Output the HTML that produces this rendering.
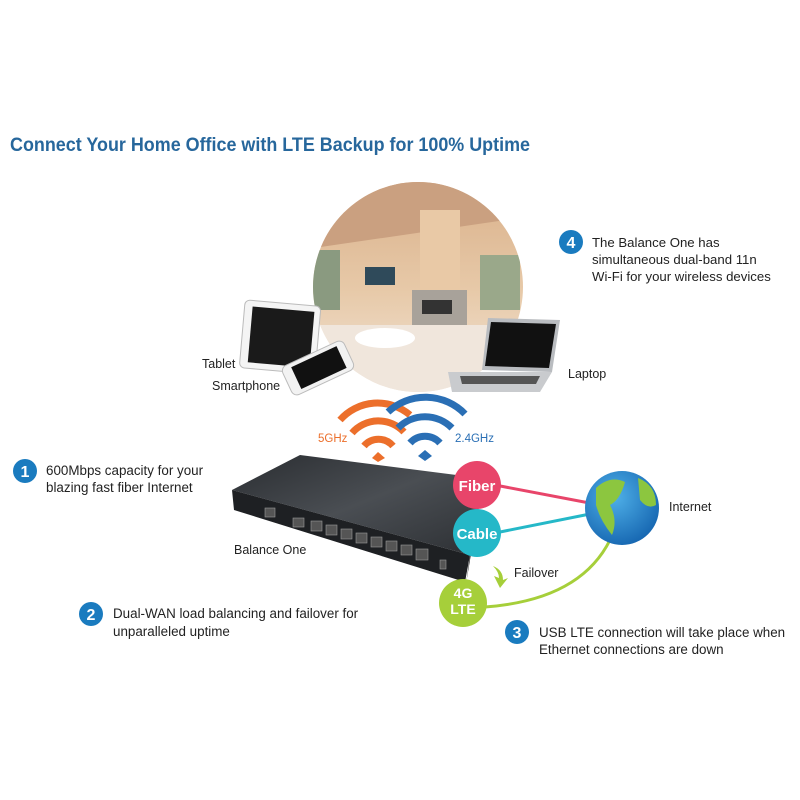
<!DOCTYPE html>
<html><head><meta charset="utf-8"><style>
html,body{margin:0;padding:0;background:#fff;}
svg{display:block;font-family:"Liberation Sans",sans-serif;}
</style></head><body>
<svg width="800" height="800" viewBox="0 0 800 800" xmlns="http://www.w3.org/2000/svg">
<defs>
<clipPath id="cc"><circle cx="418" cy="287" r="105"/></clipPath>
<linearGradient id="room" x1="0" y1="0" x2="0" y2="1">
<stop offset="0" stop-color="#d9b08a"/><stop offset="0.5" stop-color="#e7c9a8"/><stop offset="1" stop-color="#f2e6da"/></linearGradient>
<linearGradient id="rtop" x1="0" y1="0" x2="1" y2="1"><stop offset="0" stop-color="#2a2d31"/><stop offset="0.5" stop-color="#4a4e53"/><stop offset="1" stop-color="#2d3034"/></linearGradient>
<radialGradient id="globe" cx="0.4" cy="0.35" r="0.7"><stop offset="0" stop-color="#4fb0e8"/><stop offset="1" stop-color="#1565b0"/></radialGradient>
</defs>
<text x="10" y="151" font-size="19" font-weight="bold" fill="#27679c" textLength="520" lengthAdjust="spacingAndGlyphs">Connect Your Home Office with LTE Backup for 100% Uptime</text>

<g clip-path="url(#cc)">
<rect x="300" y="180" width="240" height="220" fill="url(#room)"/>
<polygon points="300,180 540,180 540,215 300,250" fill="#caa080"/>
<rect x="310" y="250" width="30" height="60" fill="#8a9a80"/>
<rect x="480" y="255" width="40" height="55" fill="#9aa88a"/>
<rect x="420" y="210" width="40" height="120" fill="#e9c9a6"/>
<rect x="412" y="290" width="55" height="40" fill="#a8a29a"/>
<rect x="422" y="300" width="30" height="14" fill="#333"/>
<rect x="365" y="267" width="30" height="18" fill="#2f4a5a"/>
<rect x="300" y="325" width="240" height="80" fill="#f0e6dc"/>
<ellipse cx="385" cy="338" rx="30" ry="10" fill="#fff"/>
</g>
<g transform="rotate(5 280 338)">
<rect x="242" y="303" width="76" height="68" rx="5" fill="#f4f4f4" stroke="#bbb"/>
<rect x="250" y="309" width="62" height="56" fill="#1a1a1a"/>
</g>
<g transform="rotate(-25 318 368)">
<rect x="284" y="352" width="68" height="32" rx="6" fill="#f2f2f2" stroke="#bbb"/>
<rect x="294" y="356" width="50" height="24" fill="#111"/>
</g>
<polygon points="488,318 560,320 552,372 482,370" fill="#b9bcc0"/>
<polygon points="491,322 556,324 549,368 485,366" fill="#111"/>
<polygon points="448,372 552,372 540,392 452,392" fill="#c9cbce"/>
<polygon points="460,376 540,376 536,384 462,384" fill="#555"/>

<text x="202" y="368" font-size="12.5" fill="#222">Tablet</text>
<text x="212" y="390" font-size="12.5" fill="#222">Smartphone</text>
<text x="568" y="378" font-size="12.5" fill="#222">Laptop</text>

<circle cx="571" cy="242" r="12" fill="#1a7bbf"/>
<text x="571" y="248" font-size="16" font-weight="bold" fill="#fff" text-anchor="middle">4</text>
<text x="592" y="247" font-size="13.2" fill="#222">The Balance One has</text>
<text x="592" y="264" font-size="13.2" fill="#222">simultaneous  dual-band 11n</text>
<text x="592" y="281" font-size="13.2" fill="#222">Wi-Fi for your wireless devices</text>

<g fill="none" stroke-linecap="butt">
<g stroke="#ec6f2b" stroke-width="7">
<path d="M340,420 A50,50 0 0 1 410,415"/>
<path d="M352,433 A35,35 0 0 1 404,432"/>
<path d="M364,446 A19,19 0 0 1 393,446"/>
</g>
<path d="M372,458 L378,452 L385,458 L378,462 Z" fill="#ec6f2b"/>
<g stroke="#2a6fb5" stroke-width="7">
<path d="M388,412 A55,55 0 0 1 465,414"/>
<path d="M398,428 A38,38 0 0 1 452,428"/>
<path d="M410,443 A20,20 0 0 1 440,443"/>
</g>
<path d="M418,456 L425,450 L432,456 L425,461 Z" fill="#2a6fb5"/>
</g>
<text x="318" y="442" font-size="11.5" fill="#ec6f2b">5GHz</text>
<text x="455" y="442" font-size="11.5" fill="#2a6fb5">2.4GHz</text>

<polygon points="232,490 300,455 480,478 470,555" fill="url(#rtop)"/>
<polygon points="232,490 470,555 465,582 234,510" fill="#1e2023"/>
<polygon points="470,555 480,478 482,488 466,584" fill="#222"/>
<g fill="#555" stroke="#999" stroke-width="0.6">
<rect x="265" y="508" width="10" height="9"/>
<rect x="293" y="518" width="11" height="9"/>
<rect x="311" y="521" width="11" height="10"/>
<rect x="326" y="525" width="11" height="10"/>
<rect x="341" y="529" width="11" height="10"/>
<rect x="356" y="533" width="11" height="10"/>
<rect x="371" y="537" width="11" height="10"/>
<rect x="386" y="541" width="11" height="10"/>
<rect x="401" y="545" width="11" height="10"/>
<rect x="416" y="549" width="12" height="11"/>
<rect x="440" y="560" width="6" height="9"/>
</g>
<text x="234" y="554" font-size="12.5" fill="#222">Balance One</text>

<line x1="495" y1="485" x2="600" y2="505" stroke="#e8456a" stroke-width="3"/>
<line x1="495" y1="533" x2="600" y2="512" stroke="#25b8c8" stroke-width="3"/>
<path d="M485,607 Q580,600 610,540" fill="none" stroke="#a6cf3a" stroke-width="3"/>
<circle cx="622" cy="508" r="37" fill="url(#globe)"/>
<path d="M596,488 Q610,475 625,482 Q620,500 610,505 Q618,520 612,535 Q600,520 596,505 Z" fill="#8cc63f"/>
<path d="M638,478 Q656,485 656,505 Q648,510 640,500 Z" fill="#8cc63f"/>
<text x="669" y="511" font-size="12.5" fill="#222">Internet</text>

<circle cx="477" cy="485" r="24" fill="#e8456a"/>
<text x="477" y="491" font-size="15" font-weight="bold" fill="#fff" text-anchor="middle">Fiber</text>
<circle cx="477" cy="533" r="24" fill="#25b8c8"/>
<text x="477" y="539" font-size="15" font-weight="bold" fill="#fff" text-anchor="middle">Cable</text>
<circle cx="463" cy="603" r="24" fill="#a6cf3a"/>
<text x="463" y="598" font-size="14" font-weight="bold" fill="#fff" text-anchor="middle">4G</text>
<text x="463" y="614" font-size="14" font-weight="bold" fill="#fff" text-anchor="middle">LTE</text>
<path d="M493,566 Q503,570 503,580 L508,578 L500,588 L494,576 L499,578 Q499,572 493,566 Z" fill="#a6cf3a"/>
<text x="514" y="577" font-size="12.5" fill="#222">Failover</text>

<circle cx="25" cy="471" r="12" fill="#1a7bbf"/>
<text x="25" y="477" font-size="16" font-weight="bold" fill="#fff" text-anchor="middle">1</text>
<text x="46" y="475" font-size="13.4" fill="#222">600Mbps capacity for your</text>
<text x="46" y="492" font-size="13.4" fill="#222">blazing fast fiber Internet</text>
<circle cx="91" cy="614" r="12" fill="#1a7bbf"/>
<text x="91" y="620" font-size="16" font-weight="bold" fill="#fff" text-anchor="middle">2</text>
<text x="113" y="618" font-size="13.4" fill="#222">Dual-WAN load balancing and failover for</text>
<text x="113" y="636" font-size="13.4" fill="#222">unparalleled uptime</text>
<circle cx="517" cy="632" r="12" fill="#1a7bbf"/>
<text x="517" y="638" font-size="16" font-weight="bold" fill="#fff" text-anchor="middle">3</text>
<text x="539" y="637" font-size="13.4" fill="#222">USB LTE connection will take place when</text>
<text x="539" y="654" font-size="13.4" fill="#222">Ethernet connections are down</text>
</svg>
</body></html>
